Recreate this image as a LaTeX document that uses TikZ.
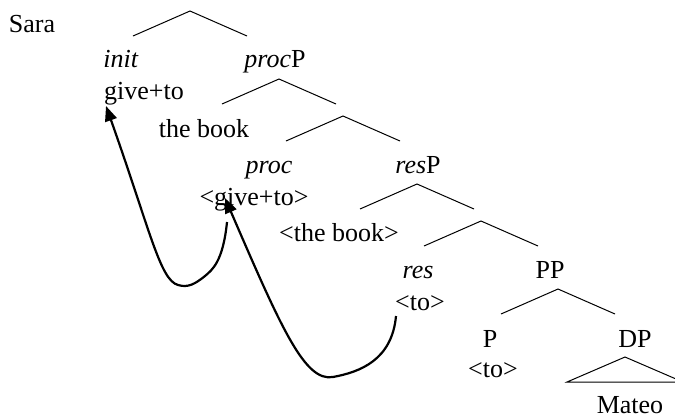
\documentclass[tikz,border=0pt]{standalone}
\usepackage{fontspec}
\setmainfont{Liberation Serif}
\usetikzlibrary{arrows.meta}

\tikzset{
  lbl/.style={anchor=base, inner sep=0pt, font=\fontsize{13}{15}\selectfont},
  branch/.style={line width=0.5pt},
  move/.style={line width=1.1pt, -{Triangle[length=7.5pt,width=6pt]}},
}
\newcommand{\fork}[1]{\draw[branch] ([shift={(-57,25)}]#1) -- (#1) -- ([shift={(57,25)}]#1);}

\begin{document}
\begin{tikzpicture}[x=0.5pt, y=-0.5pt]
  \useasboundingbox (0,0) rectangle (675,419);

  % labels
  \node[lbl] (sara) at (32,32) {Sara};
  \node[lbl] (init) at (121,67) {\textit{init}};
  \node[lbl] (procP) at (275,67) {\textit{proc}P};
  \node[lbl] (give) at (144,99) {give+to};
  \node[lbl] (book) at (204,137) {the book};
  \node[lbl] (proc) at (269,173) {\textit{proc}};
  \node[lbl] (resP) at (418,173) {\textit{res}P};
  \node[lbl] (give2) at (254,205) {<give+to>};
  \node[lbl] (book2) at (339,241) {<the book>};
  \node[lbl] (res) at (418,278) {\textit{res}};
  \node[lbl] (PP) at (550,278) {PP};
  \node[lbl] (to1) at (420,310) {<to>};
  \node[lbl] (P) at (490,347) {P};
  \node[lbl] (DP) at (635,347) {DP};
  \node[lbl] (to2) at (493,377) {<to>};
  \node[lbl] (mateo) at (630,413) {Mateo};

  % branches
  \coordinate (f1) at (190,11);
  \coordinate (f2) at (279,79);
  \coordinate (f3) at (343,116);
  \coordinate (f4) at (417,184);
  \coordinate (f5) at (481,221);
  \coordinate (f6) at (558,289);
  \fork{f1} \fork{f2} \fork{f3} \fork{f4} \fork{f5} \fork{f6}
  \coordinate (tri) at (625,357);
  \draw[branch] (tri) -- ++(-58,25) -- ++(116,0) -- cycle;

  % movement
  \draw[move] ([shift={(-27,17)}]give2.base) .. controls (223,262) and (212,270) .. (205,276)
    .. controls (195,284) and (188,288) .. (178,285)
    .. controls (160,280) and (150,230) .. ([shift={(-38,7)}]give.base);
  \draw[move] ([shift={(-24,6)}]to1.base) .. controls (392,360) and (360,372) .. (333,377)
    .. controls (305,382) and (282,330) .. ([shift={(-29,-7)}]give2.base);
\end{tikzpicture}
\end{document}
